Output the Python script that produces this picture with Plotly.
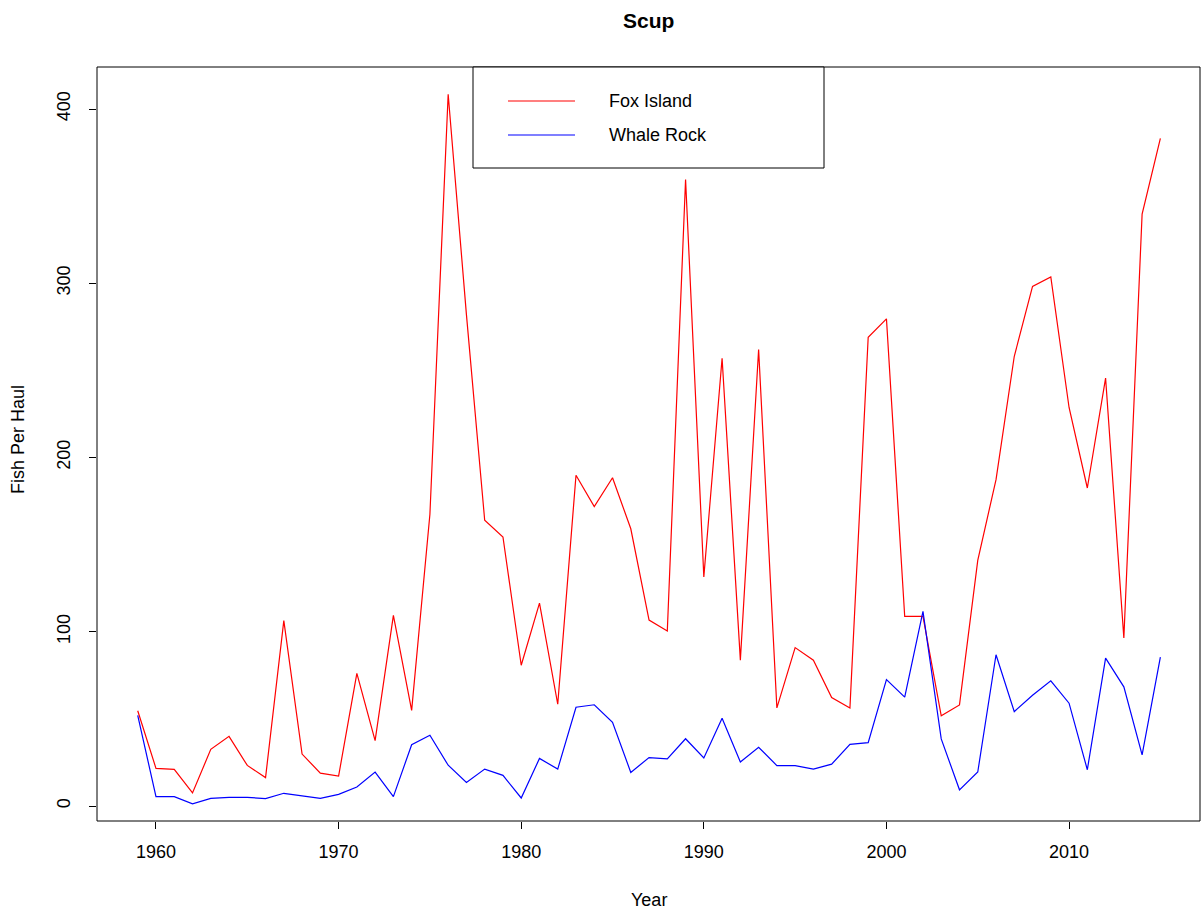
import plotly.graph_objects as go

years = list(range(1959, 2016))
fox_island = [54.7, 21.6, 21.0, 7.5, 32.5, 40.0, 23.3, 16.3, 106.4, 29.8,
              18.9, 17.2, 76.1, 37.5, 109.4, 54.9, 167.4, 408.5, 282.0, 164.0,
              154.4, 80.8, 116.4, 58.4, 189.8, 171.8, 188.4, 159.1, 106.7, 100.4,
              359.5, 131.5, 257.0, 83.7, 262.0, 56.3, 90.9, 83.7, 62.3, 56.3,
              269.0, 279.6, 108.8, 108.8, 51.8, 58.0, 141.0, 187.3, 258.1, 298.2,
              303.6, 228.7, 182.5, 245.6, 96.4, 339.7, 383.2]
whale_rock = [52.0, 5.4, 5.4, 1.3, 4.4, 5.0, 5.0, 4.2, 7.3, 5.7,
              4.4, 6.7, 10.9, 19.5, 5.4, 35.2, 40.6, 23.4, 13.5, 21.2,
              17.6, 4.6, 27.3, 21.2, 56.7, 58.1, 48.0, 19.3, 27.8, 27.0,
              38.6, 27.6, 50.4, 25.3, 33.7, 23.2, 23.2, 21.2, 24.0, 35.4,
              36.4, 72.5, 62.5, 111.7, 38.5, 9.3, 19.5, 86.8, 54.2, 63.6,
              71.8, 59.0, 20.8, 84.9, 68.4, 29.3, 85.5]
series_names = ["Fox Island", "Whale Rock"]
series_colors = ["#FF0000", "#0000FF"]
x_ticks = [1960, 1970, 1980, 1990, 2000, 2010]
y_ticks = [0, 100, 200, 300, 400]

FONT = "Liberation Sans, Arial, Helvetica, sans-serif"

fig = go.Figure()
for name, vals, col in zip(series_names, [fox_island, whale_rock], series_colors):
    fig.add_trace(go.Scatter(x=years, y=vals, mode="lines", name=name,
                             line=dict(color=col, width=1.2), showlegend=False))

W, H = 1201, 912
L, R, T, B = 97, 1, 67, 91
pw, ph = W - L - R, H - T - B

def px(x):
    return (x - L) / pw

def py(y):
    return (H - B - y) / ph

shapes = [
    dict(type="rect", xref="paper", yref="paper", x0=0, x1=1, y0=0, y1=1,
         line=dict(color="black", width=1)),
    dict(type="rect", xref="paper", yref="paper", x0=px(473), x1=px(824),
         y0=py(168), y1=1, line=dict(color="black", width=1), fillcolor="white"),
]
annotations = []
for i, (name, col) in enumerate(zip(series_names, series_colors)):
    yy = py(101 + 34 * i)
    shapes.append(dict(type="line", xref="paper", yref="paper", x0=px(508), x1=px(575),
                       y0=yy, y1=yy, line=dict(color=col, width=1.2)))
    annotations.append(dict(xref="paper", yref="paper", x=px(607), y=yy, text=name,
                            showarrow=False, xanchor="left", yanchor="middle",
                            font=dict(family=FONT, size=18, color="black")))

annotations.append(dict(xref="paper", yref="paper", x=px(18), y=py(440), text="Fish Per Haul",
                        textangle=-90, showarrow=False, xanchor="center", yanchor="middle",
                        font=dict(family=FONT, size=18, color="black")))
annotations.append(dict(xref="paper", yref="paper", x=0.5, y=py(900), text="Year",
                        showarrow=False, xanchor="center", yanchor="middle",
                        font=dict(family=FONT, size=18, color="black")))
annotations.append(dict(xref="paper", yref="paper", x=0.5, y=py(21), text="<b>Scup</b>",
                        showarrow=False, xanchor="center", yanchor="middle",
                        font=dict(family=FONT, size=21, color="black")))

fig.update_layout(
    width=W, height=H,
    margin=dict(l=L, r=R, t=T, b=B),
    paper_bgcolor="white", plot_bgcolor="white",
    shapes=shapes, annotations=annotations,
    font=dict(family=FONT, size=18, color="black"),
)
fig.update_xaxes(range=[1956.77, 2017.17], tickvals=x_ticks, ticks="outside", ticklen=7,
                 tickcolor="black", showgrid=False, zeroline=False, showline=False,
                 ticklabelstandoff=7, tickfont=dict(family=FONT, size=18))
fig.update_yaxes(range=[-8.6, 424.1], tickvals=y_ticks, ticks="outside", ticklen=7,
                 tickcolor="black", showgrid=False, zeroline=False, showline=False,
                 tickangle=-90, ticklabelstandoff=12, tickfont=dict(family=FONT, size=18))

fig.write_html("out.html", config={"displayModeBar": False},
               post_script="document.body.style.margin='0';document.body.style.padding='0';")
